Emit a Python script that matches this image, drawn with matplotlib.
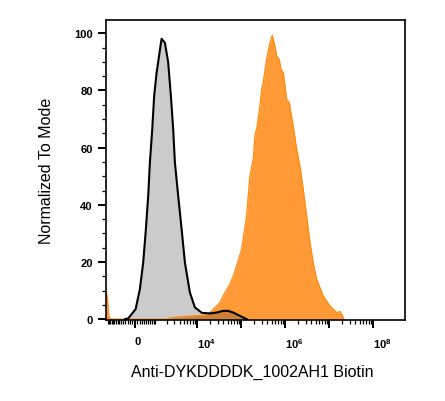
#!/usr/bin/env python3
"""Flow histogram: Anti-DYKDDDDK biotin stain vs control, biexponential x axis."""

import numpy as np
import matplotlib

matplotlib.use('Agg')
import matplotlib.pyplot as plt

plt.rcParams['font.family'] = ['Liberation Sans', 'DejaVu Sans']
plt.rcParams['mathtext.default'] = 'regular'

# control (grey) histogram, normalized to mode
grey_x = [-420, -280, 29, 206, 350, 474, 588, 677, 809, 926, 1091,
          1478, 1795, 2160, 2505, 2841, 3115, 3720, 4462, 5312, 6911, 8993,
          13000, 19760, 28050, 39620, 51460, 66850, 94850, 134700]
grey_y = [0, 0.25, 3.5, 10.5, 19.8, 31.5, 43.1, 54.8, 66.4, 78.1, 86.3,
          98.1, 96.7, 89.8, 78.1, 66.4, 54.8, 43.1, 31.5, 19.8, 9.3, 4.1,
          2.2, 2.0, 2.3, 2.9, 2.9, 2.3, 1.15, 0]

# stained sample (orange) histogram
orange_x = [-1691, -1560, -1420, -1200, 1795, 3115, 8993, 13900, 19760, 33300,
            43300, 56240, 66850, 79900, 103800, 134700, 160100, 190300, 208000,
            234700, 270400, 295500, 321300, 383800, 456300, 514500, 593000,
            647800, 741800, 811000, 915000, 1.093e6, 1.252e6, 1.543e6,
            1.843e6, 2.19e6, 2.60e6, 3.11e6, 3.70e6, 4.39e6, 5.25e6, 7.41e6,
            1.053e7, 1.494e7, 1.776e7, 1.94e7, 2.19e7]
orange_y = [9.3, 8.0, 0.6, 0, 0, 0.6, 1.2, 1.3, 2.3, 5.8,
            9.3, 12.2, 15.1, 18.6, 24.5, 36.1, 50.1, 55.9, 64.1,
            67.6, 74.6, 80.4, 82.8, 90.9, 96.7, 99.3, 95.6,
            92.1, 90.9, 87.4, 86.3, 76.9, 75.8, 67.6,
            59.4, 53.6, 45.5, 36.1, 26.8, 19.8, 14.0, 8.1,
            4.65, 2.3, 2.7, 1.75, 0]

x_major = [0, 1e4, 1e5, 1e6, 1e7, 1e8]
x_labels = ['0', '$10^4$', '', '$10^6$', '', '$10^8$']
y_ticks = [0, 20, 40, 60, 80, 100]

W = 780.0  # width of the linear region around zero


def fwd(x):
    return np.arcsinh(np.asarray(x, dtype=float) / W) / np.log(10)


def inv(v):
    return W * np.sinh(np.asarray(v, dtype=float) * np.log(10))


def main() -> None:
    fig = plt.figure(figsize=(4.45, 4.02), dpi=100)
    ax = fig.add_axes([0.238, 0.2015, 0.672, 0.7465])
    ax.set_xscale('function', functions=(fwd, inv))

    ax.fill_between(orange_x, orange_y, 0, color='#ff9a36', lw=0)
    ax.plot(orange_x, orange_y, color='#ff8a10', lw=0.9)
    ax.fill_between(grey_x, grey_y, 0, color='#333333', alpha=0.25, lw=0)
    ax.plot(grey_x, grey_y, color='black', lw=1.5)

    ax.set_xlim(-1691, 5.34e8)
    ax.set_ylim(-0.3, 104.7)

    minor = [-k * 100 for k in range(1, 16)] + [k * 100 for k in range(1, 10)]
    for e in range(3, 8):
        minor += [m * 10 ** e for m in range(1, 10)]
    minor = [m for m in minor if m not in x_major]
    ax.set_xticks(x_major)
    ax.set_xticklabels(x_labels, ha='left')
    ax.set_xticks(minor, minor=True)

    ax.set_yticks(y_ticks)
    ax.set_yticks(np.arange(0, 101, 5), minor=True)

    ax.tick_params(axis='both', which='major', direction='out', length=5.5,
                   width=1.4, labelsize=8)
    ax.tick_params(axis='both', which='minor', direction='out', length=3,
                   width=0.9)
    ax.tick_params(axis='x', which='major', pad=6)
    ax.tick_params(axis='y', which='major', pad=4)
    for lab in ax.get_xticklabels() + ax.get_yticklabels():
        lab.set_fontweight('bold')

    for s in ax.spines.values():
        s.set_linewidth(1.2)

    ax.set_xlabel('Anti-DYKDDDDK_1002AH1 Biotin', fontsize=11.5)
    ax.set_ylabel('Normalized To Mode', fontsize=11.5)
    ax.xaxis.set_label_coords(0.49, -0.145)
    ax.yaxis.set_label_coords(-0.175, 0.5)

    fig.savefig('out.png', dpi=100)


if __name__ == '__main__':
    main()
